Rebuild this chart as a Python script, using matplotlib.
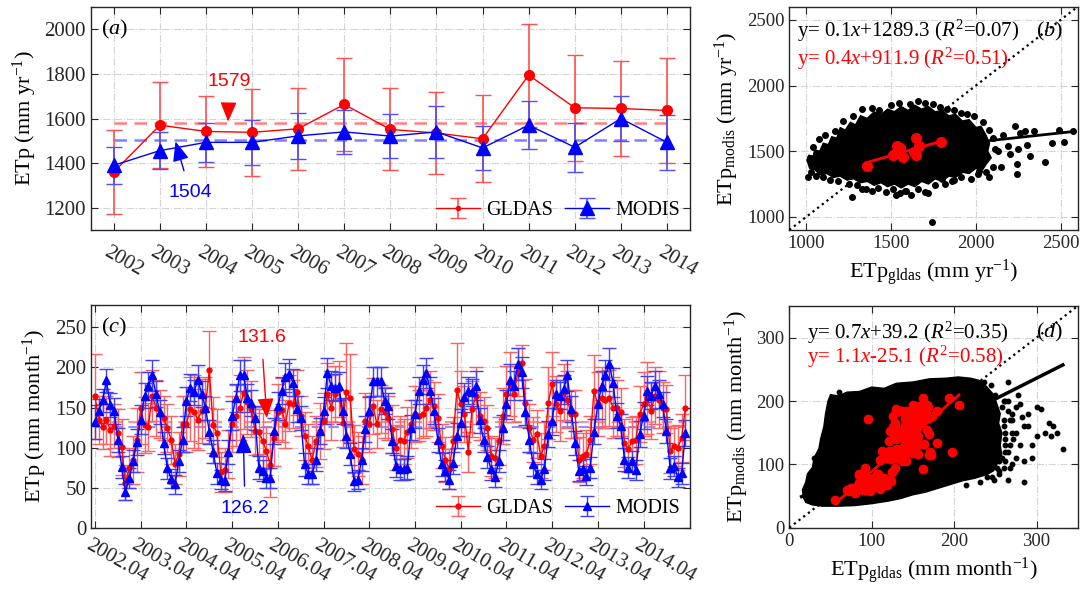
import matplotlib
matplotlib.use("Agg")
import matplotlib.pyplot as plt
import matplotlib.transforms as mtransforms
from matplotlib.patches import Polygon
from matplotlib.patches import ArrowStyle

plt.rcParams.update({
    "font.family": "Liberation Serif",
    "mathtext.fontset": "custom",
    "mathtext.rm": "Liberation Serif",
    "mathtext.it": "Liberation Serif:italic",
    "axes.edgecolor": "#262626",
    "axes.linewidth": 1.0,
    "xtick.color": "#262626",
    "ytick.color": "#262626",
    "xtick.direction": "in",
    "ytick.direction": "in",
    "xtick.top": True,
    "ytick.right": True,
    "xtick.major.size": 5,
    "ytick.major.size": 5,
    "xtick.labelsize": 13.5,
    "ytick.labelsize": 13.5,
    "axes.labelsize": 16,
})

RED = "#ff0000"
BLUE = "#0000ff"

# ── Annual data (panel a, b) ───────────────────────────────────────────────────
years = list(range(2002, 2015))
gldas_year = [1360, 1570, 1542, 1538, 1554, 1663, 1551, 1535, 1509, 1795, 1648, 1645, 1636]
gldas_year_err = [190, 193, 158, 195, 185, 207, 184, 182, 195, 231, 238, 212, 237]
modis_year = [1390, 1456, 1493, 1493, 1522, 1540, 1521, 1540, 1468, 1570, 1471, 1600, 1493]
modis_year_err = [83, 83, 86, 100, 104, 100, 98, 115, 100, 108, 110, 103, 123]
gldas_year_mean = 1579
modis_year_mean = 1504

# ── Monthly data (panel c, d), 2002.04 onwards ─────────────────────────────────
gldas_month = [
    164, 135, 126, 135, 122, 127, 118, 101, 56, 75, 85, 110,
    149, 128, 126, 165, 150, 142, 137, 124, 110, 80, 92, 130,
    130, 148, 145, 135, 146, 150, 197, 128, 118, 70, 72, 92,
    129, 140, 150, 168, 157, 148, 121, 120, 108, 96, 78, 112,
    145, 147, 130, 156, 155, 169, 140, 115, 102, 84, 108, 121,
    133, 167, 150, 167, 173, 131, 170, 162, 98, 92, 85, 133,
    129, 152, 129, 148, 144, 137, 123, 100, 110, 108, 119, 129,
    142, 140, 142, 150, 160, 152, 137, 102, 85, 73, 108, 172,
    155, 142, 95, 148, 165, 140, 133, 125, 90, 87, 108, 140,
    167, 179, 167, 194, 206, 156, 125, 110, 117, 90, 102, 156,
    179, 154, 146, 169, 160, 142, 142, 85, 90, 92, 109, 171,
    154, 162, 160, 162, 150, 150, 144, 106, 98, 108, 110, 142,
    154, 162, 146, 165, 160, 150, 148, 96, 102, 100, 112, 150,
]
gldas_month_err = [
    53, 30, 28, 30, 32, 28, 30, 35, 22, 25, 30, 40,
    45, 35, 30, 32, 35, 30, 28, 30, 30, 25, 28, 35,
    35, 40, 45, 38, 40, 38, 48, 35, 30, 25, 28, 30,
    35, 38, 40, 45, 40, 35, 30, 28, 35, 30, 40, 35,
    35, 40, 30, 35, 30, 28, 25, 30, 28, 30, 32, 35,
    35, 38, 40, 35, 35, 30, 60, 55, 30, 28, 30, 35,
    35, 35, 30, 30, 32, 28, 30, 28, 30, 28, 32, 30,
    35, 32, 30, 35, 35, 30, 30, 28, 28, 25, 30, 58,
    40, 35, 25, 35, 35, 30, 30, 28, 25, 25, 30, 35,
    35, 40, 35, 30, 22, 30, 30, 28, 30, 28, 30, 45,
    40, 35, 38, 35, 35, 30, 30, 28, 28, 30, 30, 45,
    40, 38, 35, 35, 38, 35, 30, 30, 28, 30, 30, 35,
    40, 45, 35, 35, 35, 32, 30, 28, 25, 28, 30, 40,
]
modis_month = [
    132, 146, 159, 184, 153, 146, 110, 76, 44, 62, 83, 107,
    135, 165, 177, 190, 167, 144, 106, 74, 61, 54, 83, 110,
    158, 175, 169, 185, 167, 150, 120, 95, 68, 60, 58, 95,
    140, 162, 190, 190, 162, 156, 137, 75, 71, 62, 62, 121,
    152, 171, 188, 192, 181, 148, 137, 79, 67, 67, 85, 121,
    146, 193, 177, 175, 177, 146, 115, 92, 58, 60, 85, 123,
    146, 183, 183, 183, 158, 152, 108, 77, 73, 73, 75, 125,
    142, 171, 185, 193, 171, 146, 109, 79, 71, 60, 81, 115,
    131, 163, 171, 169, 177, 134, 110, 88, 73, 63, 83, 125,
    154, 185, 177, 204, 194, 144, 110, 79, 67, 60, 73, 117,
    133, 167, 165, 173, 190, 148, 106, 71, 73, 65, 75, 120,
    154, 177, 190, 204, 181, 140, 127, 85, 75, 83, 72, 117,
    140, 171, 165, 177, 167, 154, 121, 74, 77, 63, 68, 118,
]
modis_month_err = [
    21, 15, 14, 14, 15, 16, 15, 14, 10, 12, 14, 16,
    18, 16, 17, 19, 16, 15, 14, 13, 12, 12, 14, 16,
    18, 17, 16, 18, 16, 15, 15, 14, 13, 12, 12, 15,
    18, 17, 19, 19, 17, 16, 15, 14, 13, 12, 12, 16,
    18, 17, 18, 19, 17, 16, 15, 14, 13, 12, 14, 16,
    17, 19, 18, 17, 17, 16, 15, 14, 12, 12, 14, 16,
    17, 18, 18, 18, 16, 16, 15, 14, 13, 13, 14, 16,
    17, 17, 18, 19, 17, 16, 15, 14, 13, 12, 14, 16,
    17, 18, 17, 17, 18, 16, 15, 14, 13, 12, 14, 16,
    18, 19, 18, 20, 19, 16, 15, 14, 13, 12, 13, 16,
    17, 18, 17, 18, 19, 16, 15, 13, 13, 12, 13, 16,
    18, 18, 19, 20, 18, 16, 15, 14, 13, 13, 13, 16,
    17, 18, 17, 18, 17, 16, 15, 13, 13, 12, 13, 16,
]
gldas_month_mean = 131.6
modis_month_mean = 126.2
month_ticks = list(range(0, 145, 12))
month_labels = [f"{y}.04" for y in years]

# ── Grid-cell scatter (panel b): outline of the dense cloud + stray cells ──────
b_core_gldas = [1005, 1015, 1040, 1050, 1080, 1100, 1130, 1150, 1180, 1200, 1230, 1260,
                1290, 1320, 1360, 1400, 1440, 1480, 1520, 1560, 1600, 1640, 1680, 1720,
                1760, 1800, 1840, 1880, 1920, 1960, 2000, 2030, 2060, 2080, 2070, 2090,
                2060, 2040, 2000, 1960, 1920, 1880, 1840, 1800, 1760, 1720, 1680, 1640,
                1600, 1560, 1520, 1480, 1440, 1400, 1360, 1320, 1280, 1240, 1200, 1160,
                1120, 1080, 1050, 1020, 1010]
b_core_modis = [1430, 1470, 1460, 1510, 1500, 1560, 1550, 1610, 1600, 1680, 1660, 1720,
                1700, 1770, 1750, 1800, 1780, 1820, 1800, 1840, 1810, 1850, 1820, 1840,
                1800, 1810, 1770, 1780, 1730, 1740, 1680, 1690, 1620, 1560, 1500, 1450,
                1400, 1360, 1370, 1330, 1340, 1300, 1310, 1270, 1290, 1250, 1270, 1230,
                1250, 1220, 1250, 1230, 1260, 1240, 1270, 1260, 1290, 1280, 1310, 1300,
                1330, 1320, 1360, 1370, 1410]
b_pts_gldas = [
    1040, 1075, 1110, 1170, 1215, 1275, 1330, 1390, 1430, 1500, 1545, 1610, 1660,
    1700, 1745, 1790, 1830, 1870, 1910, 1950, 1990, 2040, 2075, 2100, 2110,
    1025, 1060, 1100, 1140, 1190, 1250, 1300, 1330, 1390, 1420, 1470, 1510, 1550,
    1590, 1620, 1660, 1700, 1760, 1820, 1860, 1910, 1970, 2010, 2060, 2100,
    1010, 1020, 1270, 1350, 1530, 1580, 1720, 1740, 1800, 1870, 1900, 2020,
    2080, 2130, 2150, 2160, 2190, 2200, 2230, 2240, 2240, 2250, 2260, 2290, 2300,
    2320, 2340, 2410, 2450, 2490, 2520, 2570,
]
b_pts_modis = [
    1530, 1590, 1620, 1650, 1730, 1770, 1820, 1830, 1810, 1850, 1870, 1860, 1880,
    1870, 1860, 1840, 1820, 1810, 1790, 1780, 1770, 1720, 1660, 1600, 1520,
    1340, 1310, 1300, 1280, 1270, 1250, 1240, 1210, 1200, 1220, 1190, 1210, 1180,
    1200, 1170, 1210, 1190, 1240, 1250, 1270, 1300, 1290, 1330, 1340, 1380,
    1300, 1450, 1150, 1210, 1170, 1200, 1180, 960, 1290, 1280, 1350, 1350,
    1300, 1500, 1380, 1620, 1540, 1480, 1690, 1400, 1330, 1520, 1640, 1650, 1550,
    1460, 1650, 1420, 1560, 1660, 1570, 1650,
]
b_fit_all = (0.14, 1289.3, 1010, 2580)
b_fit_mean = (0.37, 911.9)

# ── Grid-cell scatter (panel d) ────────────────────────────────────────────────
d_core_gldas = [17, 16, 20, 22, 28, 30, 36, 38, 42, 44, 47, 50, 60, 70, 85, 100, 115,
                130, 150, 170, 190, 205, 220, 232, 240, 248, 252, 256, 254, 258, 256,
                258, 252, 248, 240, 225, 210, 195, 180, 165, 150, 135, 120, 100, 80,
                60, 40, 28, 20]
d_core_modis = [48, 60, 72, 85, 95, 110, 125, 140, 160, 180, 200, 210, 208, 214, 215,
                222, 220, 228, 230, 235, 236, 238, 236, 232, 222, 210, 195, 180, 165,
                150, 130, 115, 100, 90, 84, 78, 74, 68, 62, 56, 52, 46, 42, 38, 35,
                34, 34, 36, 40]
d_pts_gldas = [
    40, 38, 50, 45, 52, 60, 30,
    262, 265, 268, 262, 266, 262, 270, 275, 260, 255, 246, 232, 215,
    255, 258, 262, 255, 260, 258, 265, 270, 272, 268, 280, 285, 290, 278, 295,
    250, 260, 265, 270, 280, 283, 300, 305, 310, 315, 318, 320, 325, 332, 300,
    290, 275, 268, 262, 255, 270, 285, 265, 285, 275, 295, 260, 262, 250, 245,
    240, 248, 252, 236,
]
d_pts_modis = [
    130, 120, 100, 132, 205, 215, 110,
    200, 185, 170, 140, 120, 105, 150, 190, 95, 85, 80, 72, 68,
    90, 110, 130, 150, 170, 190, 200, 180, 140, 95, 130, 160, 180, 210, 110,
    210, 200, 230, 170, 195, 175, 190, 188, 150, 165, 145, 160, 150, 125, 145,
    160, 150, 130, 120, 105, 100, 105, 75, 72, 110, 130, 160, 150, 120, 225,
    80, 75, 95, 230,
]
d_fit_all = (0.656, 39.2, 15, 332)
d_fit_mean = (1.14, -25.1)

W, H = 1080, 595
fig = plt.figure(figsize=(W / 100, H / 100), dpi=100)


def frac(l, t, r, b):
    return [l / W, 1 - b / H, (r - l) / W, (b - t) / H]


def slant_labels(ax, labels, pad, size):
    ax.set_xticklabels(labels, rotation=-30, ha="left", va="center",
                       rotation_mode="anchor", fontsize=size)
    ax.tick_params(axis="x", pad=pad)
    shift = mtransforms.ScaledTranslation(-8 / 100, 0, fig.dpi_scale_trans)
    for lbl in ax.get_xticklabels():
        lbl.set_transform(lbl.get_transform() + shift)


ax_a = fig.add_axes(frac(90.7, 7, 690, 230))
ax_b = fig.add_axes(frac(789.3, 6.7, 1077.7, 230))
ax_c = fig.add_axes(frac(91, 305, 690, 527.7))
ax_d = fig.add_axes(frac(789.3, 306, 1077.7, 527.7))

for ax in (ax_a, ax_b, ax_c, ax_d):
    ax.grid(True, ls="-.", color="#d4d4d4", lw=0.8)
    ax.set_axisbelow(True)

head = ArrowStyle("-|>", head_length=0.6, head_width=0.25)

# ── (a) annual series ─────────────────────────────────────────────────────────
ax_a.hlines(gldas_year_mean, years[0], years[-1], colors="#ff8080", linestyles=(0, (5, 3)), lw=1.8)
ax_a.hlines(modis_year_mean, years[0], years[-1], colors="#8080ff", linestyles=(0, (5, 3)), lw=1.8)
ax_a.errorbar(years, gldas_year, yerr=gldas_year_err, color=RED, ecolor="#ff5050",
              lw=1, elinewidth=1.2, capsize=6, marker="o", ms=7)
ax_a.errorbar(years, modis_year, yerr=modis_year_err, color=BLUE, ecolor="#5050ff",
              lw=1, elinewidth=1.2, capsize=6, marker="^", ms=10)
# legend proxies (small dot for GLDAS, as in the original legend)
lg_g = ax_a.errorbar([float("nan")], [float("nan")], yerr=[1], color=RED, ecolor="#ff5050",
                     lw=1, elinewidth=1.2, capsize=6, marker="o", ms=3, label="GLDAS")
lg_m = ax_a.errorbar([float("nan")], [float("nan")], yerr=[1], color=BLUE, ecolor="#5050ff",
                     lw=1, elinewidth=1.2, capsize=6, marker="^", ms=10, label="MODIS")
ax_a.annotate("1579", xy=(2004.48, 1586), xytext=(2004.5, 1766), color=RED,
              family="Liberation Sans", fontsize=14, ha="center", va="center",
              arrowprops=dict(arrowstyle=head, color=RED, lw=1, mutation_scale=20, shrinkA=8, shrinkB=0))
ax_a.annotate("1504", xy=(2003.34, 1497), xytext=(2003.66, 1267), color=BLUE,
              family="Liberation Sans", fontsize=14, ha="center", va="center",
              arrowprops=dict(arrowstyle=head, color=BLUE, lw=1, mutation_scale=20, shrinkA=8, shrinkB=0))
ax_a.set_xlim(2001.5, 2014.5)
ax_a.set_ylim(1100, 2100)
ax_a.set_yticks(range(1200, 2001, 200))
ax_a.tick_params(axis="y", labelsize=15)
ax_a.set_xticks(years)
slant_labels(ax_a, [str(y) for y in years], 15.5, 15)
ax_a.set_ylabel(r"ETp (mm yr$^{\mathregular{-1}}$)", labelpad=4)
ax_a.text(0.017, 0.875, r"($a$)", transform=ax_a.transAxes, fontsize=16)
ax_a.legend(handles=[lg_g, lg_m], loc="lower right", ncol=2, frameon=False, fontsize=14.5,
            handlelength=2.2, columnspacing=0.6, handletextpad=0.3, borderaxespad=0.1)

# ── (b) annual scatter ────────────────────────────────────────────────────────
ax_b.add_patch(Polygon(list(zip(b_core_gldas, b_core_modis)), closed=True,
                       facecolor="black", edgecolor="black", lw=1, zorder=2))
ax_b.plot(b_pts_gldas, b_pts_modis, "o", color="black", ms=4, zorder=2)
sl, ic, x0, x1 = b_fit_all
ax_b.plot([x0, x1], [sl * x0 + ic, sl * x1 + ic], color="black", lw=2, zorder=3)
ax_b.plot(gldas_year, modis_year, "o", color=RED, ms=7, zorder=4)
sl, ic = b_fit_mean
gx = [min(gldas_year), max(gldas_year)]
ax_b.plot(gx, [sl * v + ic for v in gx], color=RED, lw=2, zorder=4)
ax_b.plot([900, 2600], [900, 2600], ":", color="black", lw=1.6, zorder=3)
ax_b.set_xlim(900, 2600)
ax_b.set_ylim(900, 2600)
ax_b.set_xticks([1000, 1500, 2000, 2500])
ax_b.set_yticks([1000, 1500, 2000, 2500])
ax_b.set_xlabel(r"ETp$_{\mathregular{gldas}}$ (mm yr$^{\mathregular{-1}}$)", labelpad=4)
ax_b.set_ylabel(r"ETp$_{\mathregular{modis}}$ (mm yr$^{\mathregular{-1}}$)", labelpad=4)
ax_b.text(0.025, 0.89, r"y= 0.1$x$+1289.3 ($R^{\mathregular{2}}$=0.07)", transform=ax_b.transAxes,
          fontsize=15, va="center")
ax_b.text(0.025, 0.765, r"y= 0.4$x$+911.9 ($R^{\mathregular{2}}$=0.51)", transform=ax_b.transAxes,
          fontsize=15, va="center", color=RED)
ax_b.text(0.855, 0.89, r"($b$)", transform=ax_b.transAxes, fontsize=16, va="center")

# ── (c) monthly series ────────────────────────────────────────────────────────
months = list(range(len(gldas_month)))
ax_c.hlines(gldas_month_mean, months[0], months[-1], colors="#ff9090", linestyles=(0, (5, 3)), lw=1.5)
ax_c.hlines(modis_month_mean, months[0], months[-1], colors="#9090ff", linestyles=(0, (5, 3)), lw=1.5)
hc_g = ax_c.errorbar(months, gldas_month, yerr=gldas_month_err, color=RED, ecolor="#ff6060",
                     lw=1, elinewidth=1, capsize=5, marker="o", ms=3.5, label="GLDAS")
hc_m = ax_c.errorbar(months, modis_month, yerr=modis_month_err, color=BLUE, ecolor="#4040ff",
                     lw=1, elinewidth=1, capsize=5, marker="^", ms=6, label="MODIS")
ax_c.annotate("131.6", xy=(45.1, 137), xytext=(43.7, 238), color=RED,
              family="Liberation Sans", fontsize=14, ha="center", va="center",
              arrowprops=dict(arrowstyle=head, color=RED, lw=1, mutation_scale=20, shrinkA=8, shrinkB=0))
ax_c.annotate("126.2", xy=(38.9, 117), xytext=(39.4, 24), color=BLUE,
              family="Liberation Sans", fontsize=14, ha="center", va="center",
              arrowprops=dict(arrowstyle=head, color=BLUE, lw=1, mutation_scale=20, shrinkA=8, shrinkB=0))
ax_c.set_xlim(-1.05, 156.2)
ax_c.set_ylim(0, 278)
ax_c.set_yticks(range(0, 251, 50))
ax_c.tick_params(axis="y", labelsize=15)
ax_c.set_xticks(month_ticks)
slant_labels(ax_c, month_labels, 12, 15)
ax_c.set_ylabel(r"ETp (mm month$^{\mathregular{-1}}$)", labelpad=4)
ax_c.text(0.017, 0.875, r"($c$)", transform=ax_c.transAxes, fontsize=16)
ax_c.legend(handles=[hc_g, hc_m], loc="lower right", ncol=2, frameon=False, fontsize=14.5,
            handlelength=2.2, columnspacing=0.6, handletextpad=0.3, borderaxespad=0.1)

# ── (d) monthly scatter ───────────────────────────────────────────────────────
ax_d.add_patch(Polygon(list(zip(d_core_gldas, d_core_modis)), closed=True,
                       facecolor="black", edgecolor="black", lw=1, zorder=2))
ax_d.plot(d_pts_gldas, d_pts_modis, "o", color="black", ms=3.2, zorder=2)
sl, ic, x0, x1 = d_fit_all
ax_d.plot([x0, x1], [sl * x0 + ic, sl * x1 + ic], color="black", lw=2.5, zorder=3)
ax_d.plot(gldas_month, modis_month, "o", color=RED, ms=6, zorder=4)
sl, ic = d_fit_mean
gx = [min(gldas_month), max(gldas_month)]
ax_d.plot(gx, [sl * v + ic for v in gx], color=RED, lw=2, zorder=4)
ax_d.plot([0, 350], [0, 350], ":", color="black", lw=1.6, zorder=3)
ax_d.set_xlim(0, 350)
ax_d.set_ylim(0, 350)
ax_d.set_xticks([0, 100, 200, 300])
ax_d.set_yticks([0, 100, 200, 300])
ax_d.set_xlabel(r"ETp$_{\mathregular{gldas}}$ (mm month$^{\mathregular{-1}}$)", labelpad=4)
ax_d.set_ylabel(r"ETp$_{\mathregular{modis}}$ (mm month$^{\mathregular{-1}}$)", labelpad=4)
ax_d.text(0.06, 0.88, r"y= 0.7$x$+39.2 ($R^{\mathregular{2}}$=0.35)", transform=ax_d.transAxes,
          fontsize=15, va="center")
ax_d.text(0.06, 0.77, r"y= 1.1$x$-25.1 ($R^{\mathregular{2}}$=0.58)", transform=ax_d.transAxes,
          fontsize=15, va="center", color=RED)
ax_d.text(0.855, 0.88, r"($d$)", transform=ax_d.transAxes, fontsize=16, va="center")

fig.savefig("out.png", dpi=100)
